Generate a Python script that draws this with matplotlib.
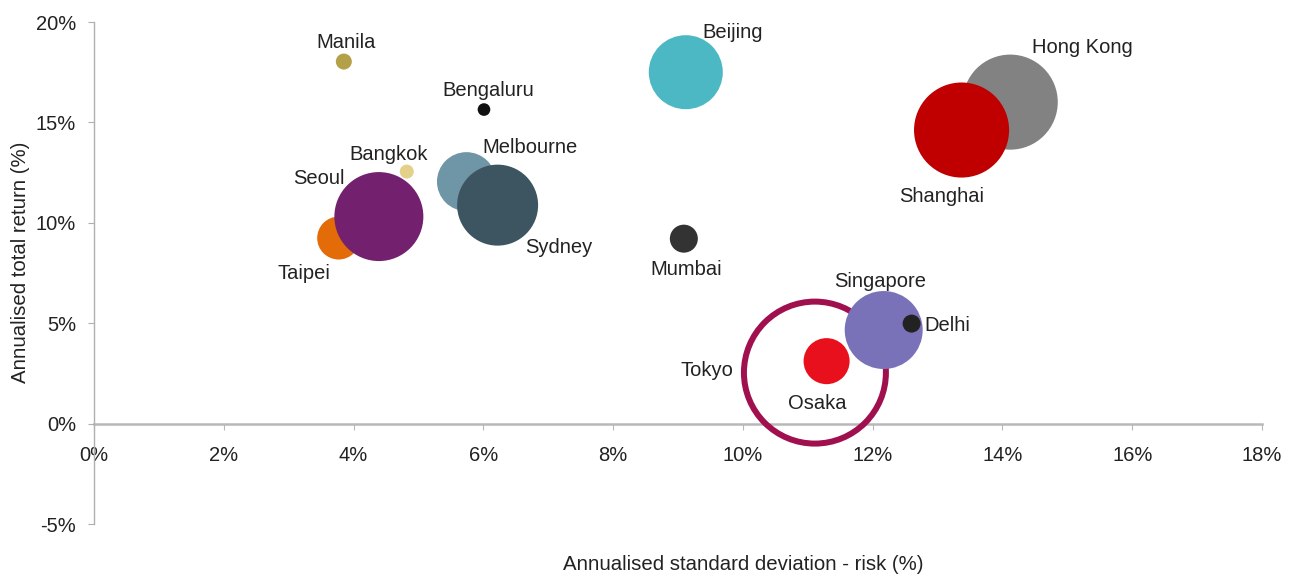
import matplotlib
matplotlib.use("Agg")
import matplotlib.pyplot as plt
import numpy as np

plt.rcParams['font.family'] = ['Liberation Sans', 'DejaVu Sans']

# ---- data ----
cities = ["Manila", "Bengaluru", "Beijing", "Hong Kong", "Shanghai", "Bangkok",
          "Melbourne", "Sydney", "Taipei", "Seoul", "Mumbai", "Tokyo", "Osaka",
          "Singapore", "Delhi"]
risk = [3.85, 6.01, 9.12, 14.12, 13.37, 4.82, 5.74, 6.22, 3.77, 4.39, 9.09,
        11.11, 11.29, 12.17, 12.60]
total_return = [18.03, 15.64, 17.50, 16.01, 14.62, 12.55, 12.05, 10.88, 9.24,
                10.31, 9.21, 2.54, 3.11, 4.66, 4.98]
market_size = [0.64, 0.40, 13.7, 22.6, 22.6, 0.49, 8.7, 16.4, 4.6, 19.8, 1.96,
               50.4, 5.3, 15.2, 0.81]
x_ticks = [0, 2, 4, 6, 8, 10, 12, 14, 16, 18]
y_ticks = [-5, 0, 5, 10, 15, 20]

# ---- styles ----
colors = ["#b5a04a", "#111111", "#4bb8c4", "#828282", "#c00000", "#e3d08a",
          "#6f96a6", "#3d5560", "#e36c09", "#73206e", "#333333", "#a0104f",
          "#e8101c", "#7a72b8", "#222222"]
hollow = {"Tokyo"}
label_offsets = [(1.4, 13.7), (2.9, 13.7), (33.8, 28.4), (52.2, 39.2),
                 (-14.4, -47.9), (-13, 12.2), (45.7, 24.5), (44.3, -30.6),
                 (-24.8, -25.6), (-43.2, 27.4), (1.4, -22.3), (-77.8, 1.4),
                 (-6.5, -30.6), (-2.9, 34.9), (25.9, -1.4)]

W, H, DPI = 1293, 575, 100
fig = plt.figure(figsize=(W / DPI, H / DPI), dpi=DPI)
ax = fig.add_axes([94 / W, 51 / H, (1262 - 94) / W, (524 - 22) / H])

px2pt = 72.0 / DPI
for name, x, y, v, c, off in zip(cities, risk, total_return, market_size,
                                 colors, label_offsets):
    r_px = np.sqrt(v * 100.0)
    s = (2 * r_px * px2pt) ** 2
    if name in hollow:
        ax.scatter([x], [y], s=s, facecolors='none', edgecolors=c,
                   linewidths=6 * px2pt, zorder=2)
    else:
        ax.scatter([x], [y], s=s, color=c, edgecolors='none', zorder=2)
    ax.annotate(name, (x, y), xytext=off, textcoords='offset points',
                ha='center', va='center', fontsize=14.5, color='#222222',
                zorder=5)

ax.set_xlim(0, 18)
ax.set_ylim(-5, 20)
ax.set_xticks(x_ticks)
ax.set_yticks(y_ticks)
ax.set_xticklabels([f"{t}%" for t in x_ticks])
ax.set_yticklabels([f"{t}%" for t in y_ticks])

for sp in ['top', 'right']:
    ax.spines[sp].set_visible(False)
ax.spines['left'].set_color('#b0b0b0')
ax.spines['bottom'].set_color('#b8b8b8')
ax.spines['bottom'].set_position(('data', 0))
ax.spines['bottom'].set_zorder(1)
ax.spines['left'].set_linewidth(1.0)
ax.spines['bottom'].set_linewidth(1.8)

ax.tick_params(axis='x', direction='out', length=4, color='#b8b8b8',
               labelsize=14.5, labelcolor='#222222', pad=12)
ax.tick_params(axis='y', direction='out', length=4, color='#b0b0b0',
               labelsize=14.5, labelcolor='#222222', pad=9)

fig.text(743 / W, 1 - 565 / H, "Annualised standard deviation - risk (%)",
         ha='center', va='center', fontsize=14.7, color='#222222')
fig.text(21 / W, 1 - 262 / H, "Annualised total return (%)", rotation=90,
         ha='center', va='center', fontsize=14.7, color='#222222')

fig.savefig("out.png", dpi=DPI)
